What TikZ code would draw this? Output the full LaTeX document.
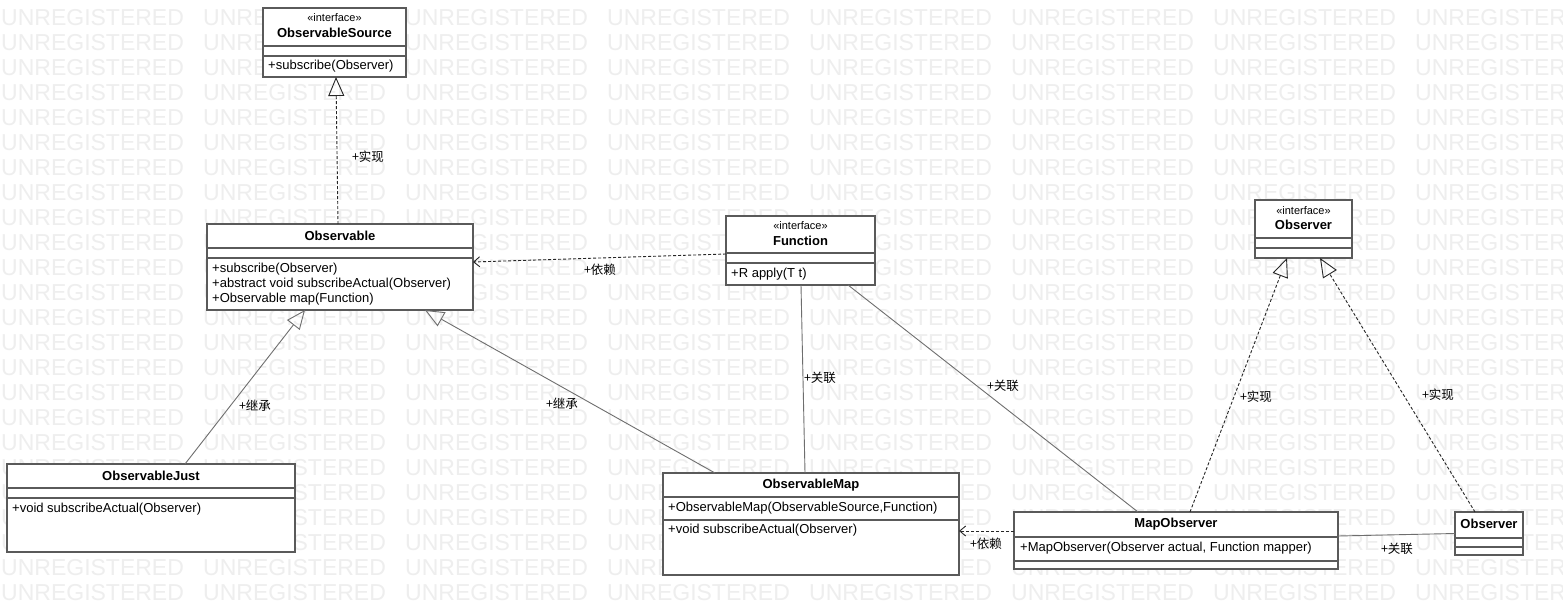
\documentclass[tikz,border=0pt]{standalone}
\usepackage{fontspec}
\setmainfont{Liberation Sans}
\newfontfamily\cjk{Noto Sans CJK SC}
\usetikzlibrary{arrows.meta}
\definecolor{boxc}{HTML}{5A5A5A}
\definecolor{linec}{HTML}{6E6E6E}
\definecolor{wmc}{HTML}{EEEEEE}
\tikzset{
  cls/.style={draw=boxc, line width=1.5pt, fill=white, anchor=north west, inner sep=0pt, outer sep=0pt},
  sepline/.style={draw=boxc, line width=1.5pt},
  ttl/.style={font=\bfseries\fontsize{13}{15}\selectfont, inner sep=0pt},
  ster/.style={font=\fontsize{11}{13}\selectfont, inner sep=0pt},
  mth/.style={font=\fontsize{13}{15}\selectfont, anchor=west, inner sep=0pt},
  lbl/.style={font=\cjk\fontsize{12.5}{14}\selectfont, inner sep=0pt},
  wm/.style={font=\fontsize{23}{25}\selectfont, text=wmc, anchor=west, inner sep=0pt},
  solidlink/.style={draw=linec, line width=0.9pt},
  dashlink/.style={draw=black!85, line width=0.9pt, dash pattern=on 3pt off 2pt},
  gen/.style={-{Triangle[open, length=19pt, width=16pt, line width=0.9pt]}},
  dep/.style={-{Straight Barb[length=6pt, width=10pt, line width=0.9pt]}}
}
\begin{document}
\begin{tikzpicture}[x=1pt, y=-1pt]
\useasboundingbox[fill=white] (0,0) rectangle (1563,615);
% watermark
\foreach \r in {0,...,23} {
  \foreach \c in {0,...,7} {
    \node[wm] (wm-\r-\c) at (\c*202+1, 18+\r*25) {UNREGISTERED};
  }
}
% ---------- ObservableSource ----------
\node[cls, minimum width=143pt, minimum height=69pt] (src) at (263,8) {};
\draw[sepline] (263,46) -- (406,46);
\draw[sepline] (263,56) -- (406,56);
\node[ster] (src-s) at (334.5,18) {«interface»};
\node[ttl] (src-t) at (334.5,33) {ObservableSource};
\node[mth] (src-m1) at (268,66) {+subscribe(Observer)};
% ---------- Observable ----------
\node[cls, minimum width=266pt, minimum height=86pt] (obs) at (207,224) {};
\draw[sepline] (207,248) -- (473,248);
\draw[sepline] (207,258) -- (473,258);
\node[ttl] (obs-t) at (340,236) {Observable};
\node[mth] (obs-m1) at (212,269) {+subscribe(Observer)};
\node[mth] (obs-m2) at (212,284) {+abstract void subscribeActual(Observer)};
\node[mth] (obs-m3) at (212,299) {+Observable map(Function)};
% ---------- Function ----------
\node[cls, minimum width=149pt, minimum height=69pt] (fn) at (726,216) {};
\draw[sepline] (726,253) -- (875,253);
\draw[sepline] (726,263) -- (875,263);
\node[ster] (fn-s) at (800.5,226) {«interface»};
\node[ttl] (fn-t) at (800.5,241) {Function};
\node[mth] (fn-m1) at (731,274) {+R apply(T t)};
% ---------- Observer (interface) ----------
\node[cls, minimum width=97pt, minimum height=58pt] (oi) at (1255,200) {};
\draw[sepline] (1255,238) -- (1352,238);
\draw[sepline] (1255,248) -- (1352,248);
\node[ster] (oi-s) at (1303.5,211) {«interface»};
\node[ttl] (oi-t) at (1303.5,225) {Observer};
% ---------- ObservableJust ----------
\node[cls, minimum width=288pt, minimum height=88pt] (oj) at (7,464) {};
\draw[sepline] (7,488) -- (295,488);
\draw[sepline] (7,498) -- (295,498);
\node[ttl] (oj-t) at (151,476) {ObservableJust};
\node[mth] (oj-m1) at (12,509) {+void subscribeActual(Observer)};
% ---------- ObservableMap ----------
\node[cls, minimum width=296pt, minimum height=102pt] (om) at (663,473) {};
\draw[sepline] (663,497) -- (959,497);
\draw[sepline] (663,520) -- (959,520);
\node[ttl] (om-t) at (811,485) {ObservableMap};
\node[mth] (om-m1) at (668,508) {+ObservableMap(ObservableSource,Function)};
\node[mth] (om-m2) at (668,530) {+void subscribeActual(Observer)};
% ---------- MapObserver ----------
\node[cls, minimum width=324pt, minimum height=57pt] (mo) at (1014,512) {};
\draw[sepline] (1014,537) -- (1338,537);
\draw[sepline] (1014,561) -- (1338,561);
\node[ttl] (mo-t) at (1176,524) {MapObserver};
\node[mth] (mo-m1) at (1020,548) {+MapObserver(Observer actual, Function mapper)};
% ---------- Observer (class) ----------
\node[cls, minimum width=68pt, minimum height=43pt] (oc) at (1455,512) {};
\draw[sepline] (1455,538) -- (1523,538);
\draw[sepline] (1455,547) -- (1523,547);
\node[ttl] (oc-t) at (1489,524) {Observer};
% ---------- connectors ----------
\draw[dashlink, gen] ([xshift=-2pt]obs.north) -- ([xshift=1.5pt]src.south);
\draw[dashlink, dep] ([yshift=-3.5pt]fn.west) -- ([yshift=5pt]obs.east);
\draw[solidlink, gen] ([xshift=34pt]oj.north) -- ([xshift=-35pt]obs.south);
\draw[solidlink, gen] ([xshift=-96pt]om.north) -- ([xshift=85pt]obs.south);
\draw[solidlink] ([xshift=-6pt]om.north) -- ([xshift=0.5pt]fn.south);
\draw[solidlink] ([xshift=-38pt]mo.north) -- ([xshift=47.5pt]fn.south);
\draw[dashlink, gen] ([xshift=14pt]mo.north) -- ([xshift=-16.5pt]oi.south);
\draw[dashlink, gen] ([xshift=-14pt]oc.north) -- ([xshift=16.5pt]oi.south);
\draw[dashlink, dep] ([yshift=9.5pt]mo.west) -- ([yshift=-7pt]om.east);
\draw[solidlink] ([yshift=4.5pt]mo.east) -- (oc.west);
% ---------- labels ----------
\node[lbl] (l1) at (368,157) {+实现};
\node[lbl] (l2) at (600,270) {+依赖};
\node[lbl] (l3) at (255,406) {+继承};
\node[lbl] (l4) at (562,404) {+继承};
\node[lbl] (l5) at (820,378) {+关联};
\node[lbl] (l6) at (1003,386) {+关联};
\node[lbl] (l7) at (1256,397) {+实现};
\node[lbl] (l8) at (1438,395) {+实现};
\node[lbl] (l9) at (986,544) {+依赖};
\node[lbl] (l10) at (1397,549) {+关联};
\end{tikzpicture}
\end{document}
